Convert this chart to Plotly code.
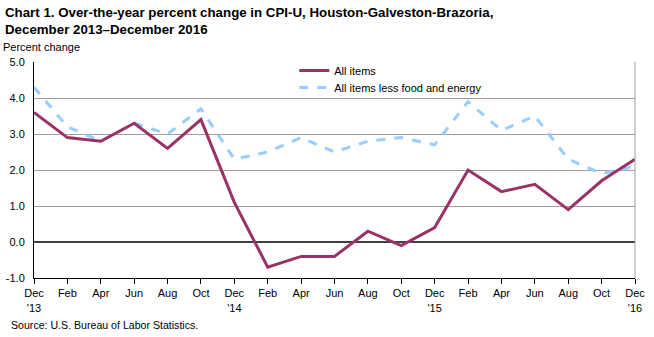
import plotly.graph_objects as go

months = ["Dec<br>'13", "Feb", "Apr", "Jun", "Aug", "Oct", "Dec<br>'14", "Feb", "Apr", "Jun",
          "Aug", "Oct", "Dec<br>'15", "Feb", "Apr", "Jun", "Aug", "Oct", "Dec<br>'16"]
all_items = [3.6, 2.9, 2.8, 3.3, 2.6, 3.4, 1.1, -0.7, -0.4, -0.4, 0.3, -0.1, 0.4, 2.0, 1.4, 1.6, 0.9, 1.7, 2.3]
core = [4.3, 3.2, 2.8, 3.3, 3.0, 3.7, 2.3, 2.5, 2.9, 2.5, 2.8, 2.9, 2.7, 3.9, 3.1, 3.5, 2.3, 1.9, 2.1]
y_ticks = [-1.0, 0.0, 1.0, 2.0, 3.0, 4.0, 5.0]

x = list(range(len(months)))
FONT = "Liberation Sans, Arial, sans-serif"
PW, PH = 601, 216  # plot area size in px

fig = go.Figure()
fig.add_trace(go.Scatter(x=x, y=core, mode="lines", name="All items less food and energy",
                         line=dict(color="#99CCFF", width=3, dash="dash"), cliponaxis=False,
                         legend="legend2"))
fig.add_trace(go.Scatter(x=x, y=all_items, mode="lines", name="All items",
                         line=dict(color="#993366", width=3), cliponaxis=False,
                         legend="legend"))

leg_common = dict(xanchor="left", yanchor="top", bgcolor="rgba(0,0,0,0)",
                  font=dict(size=11, family=FONT), itemwidth=30)

fig.update_layout(
    width=654, height=337,
    margin=dict(l=34, r=19, t=62, b=59, autoexpand=False),
    paper_bgcolor="white", plot_bgcolor="white",
    font=dict(family=FONT, size=11, color="black"),
    showlegend=True,
    legend=dict(x=0.433, y=1 + 6 / PH, **leg_common),
    legend2=dict(x=0.433, y=1 - 11 / PH, **leg_common),
    xaxis=dict(range=[0, 18], tickvals=x, ticktext=months, showgrid=False,
               showline=True, linecolor="black", linewidth=1, ticks="outside",
               ticklen=5, tickcolor="black", zeroline=False, fixedrange=True,
               automargin=False),
    yaxis=dict(range=[-1, 5], tickvals=y_ticks, ticktext=[f"{v:.1f}" for v in y_ticks],
               showgrid=True, gridcolor="#A0A0A0", gridwidth=1, showline=True,
               linecolor="black", linewidth=1, ticks="", zeroline=True,
               zerolinecolor="#404040", zerolinewidth=2, fixedrange=True,
               ticklabelstandoff=6, automargin=False),
    shapes=[dict(type="line", xref="paper", yref="paper", x0=1, x1=1, y0=0, y1=1,
                 line=dict(color="#A0A0A0", width=1))],
    annotations=[
        dict(xref="paper", yref="paper", x=-31 / PW, y=1 + 59 / PH, xanchor="left", yanchor="top",
             text="<b>Chart 1. Over-the-year percent change in CPI-U, Houston-Galveston-Brazoria,<br>December 2013\u2013December 2016</b>",
             showarrow=False, align="left", font=dict(size=13.3, family=FONT)),
        dict(xref="paper", yref="paper", x=-33 / PW, y=1 + 23 / PH, xanchor="left", yanchor="top",
             text="Percent change", showarrow=False, font=dict(size=11, family=FONT)),
        dict(xref="paper", yref="paper", x=-25 / PW, y=-39 / PH, xanchor="left", yanchor="top",
             text="Source: U.S. Bureau of Labor Statistics.", showarrow=False,
             font=dict(size=10.6, family=FONT)),
    ],
)

fig.write_html("out.html")
